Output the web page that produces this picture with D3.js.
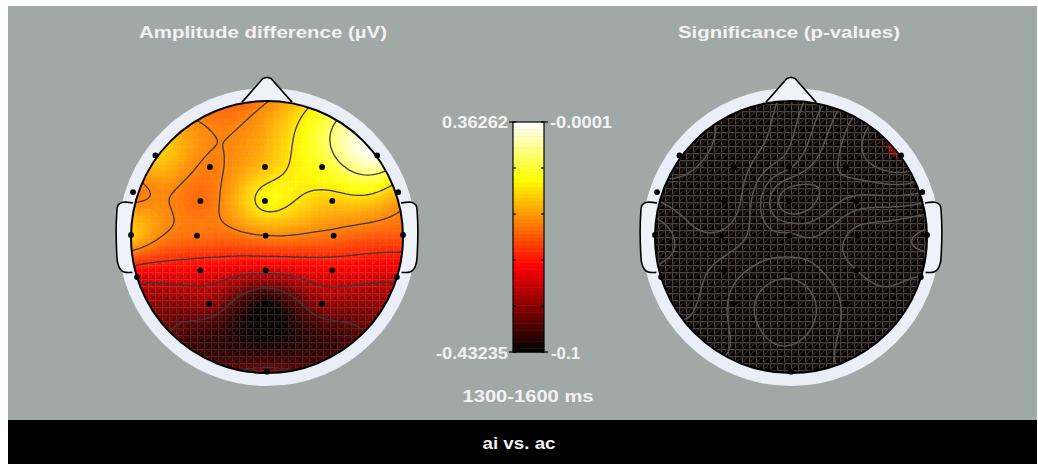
<!DOCTYPE html>
<html lang="en">
<head>
  <meta charset="UTF-8">
  <title>Topoplot ai vs. ac</title>
  <script src="https://cdn.jsdelivr.net/npm/d3@7"></script>
  <style>
    body { margin: 0; background: #fff; }
    text {
      font-family: "Liberation Sans", Arial, sans-serif;
      font-weight: bold;
      font-size: 17px;
      fill: #f2f2f2;
    }
  </style>
</head>
<body>
<script>
// electrode layout, head radius = 1, x to the right, y towards the back
var chans = ["F7", "FT7", "T7", "TP7", "F8", "FT8", "T8", "TP8", "Oz",
             "F3", "Fz", "F4", "FC3", "FCz", "FC4", "C3", "Cz", "C4",
             "CP3", "CPz", "CP4", "P3", "Pz", "P4", "O1", "O2"];
var chanX = [-0.82, -0.985, -1.0, -0.955, 0.81, 0.965, 1.0, 0.955, 0.0,
             -0.42, -0.015, 0.405, -0.49, -0.015, 0.48, -0.515, -0.01, 0.49,
             -0.49, -0.01, 0.48, -0.425, -0.01, 0.405, -0.5, 0.5];
var chanY = [-0.6, -0.33, -0.015, 0.295, -0.6, -0.33, -0.015, 0.295, 0.99,
             -0.515, -0.515, -0.515, -0.265, -0.265, -0.265, -0.01, -0.01, -0.01,
             0.245, 0.245, 0.245, 0.49, 0.49, 0.49, 0.78, 0.78];
// O1 / O2 take part in the interpolation but have no marker in the figure
var chanShown = chans.map(function(c) { return c !== "O1" && c !== "O2"; });

// amplitude difference (µV) per electrode
var ampValues = [0.11, 0.0, 0.10, -0.17, 0.35, 0.08, -0.03, -0.19, -0.30,
                 0.01, 0.09, 0.19, -0.01, 0.16, 0.10, 0.0, 0.02, 0.0,
                 -0.15, -0.18, -0.15, -0.26, -0.42, -0.26, -0.37, -0.37];
// p-values per electrode
var pValues = [0.7, 0.85, 0.6, 0.75, 0.08, 0.45, 0.85, 0.7, 0.5,
               0.9, 0.6, 0.3, 0.95, 0.22, 0.5, 0.8, 0.6, 0.75,
               0.65, 0.5, 0.7, 0.55, 0.35, 0.6, 0.6, 0.65];

var ampRange = [-0.43235, 0.36262];
var pRange = [-0.1, -0.0001];
var ampLabels = ["-0.43235", "0.36262"];
var pLabels = ["-0.1", "-0.0001"];
var titles = ["Amplitude difference (\u00b5V)", "Significance (p-values)"];
var timeLabel = "1300-1600 ms";
var condLabel = "ai vs. ac";

var w = 1038, h = 464;
var R = 136;          // head radius in px
var gridN = 111, gridExt = 1.1;

// matlab style "hot" colormap
function hot(t) {
  t = Math.max(0, Math.min(1, t));
  var r = Math.min(1, t / 0.375),
      g = Math.max(0, Math.min(1, (t - 0.375) / 0.375)),
      b = Math.max(0, (t - 0.75) / 0.25);
  return d3.rgb(r * 255, g * 255, b * 255).toString();
}

// biharmonic spline (like griddata v4)
function green(r) { return r === 0 ? 0 : r * r * (Math.log(r) - 1); }

function solve(A, b) {
  var n = b.length;
  A = A.map(function(row) { return row.slice(); });
  b = b.slice();
  for (var k = 0; k < n; k++) {
    var p = k;
    for (var i = k + 1; i < n; i++) if (Math.abs(A[i][k]) > Math.abs(A[p][k])) p = i;
    var t = A[k]; A[k] = A[p]; A[p] = t;
    var tb = b[k]; b[k] = b[p]; b[p] = tb;
    for (var i = k + 1; i < n; i++) {
      var f = A[i][k] / A[k][k];
      for (var j = k; j < n; j++) A[i][j] -= f * A[k][j];
      b[i] -= f * b[k];
    }
  }
  var x = new Array(n);
  for (var i = n - 1; i >= 0; i--) {
    var s = b[i];
    for (var j = i + 1; j < n; j++) s -= A[i][j] * x[j];
    x[i] = s / A[i][i];
  }
  return x;
}

function interpolate(values) {
  var G = chanX.map(function(x, i) {
    return chanX.map(function(x2, j) { return green(Math.hypot(x - x2, chanY[i] - chanY[j])); });
  });
  var wts = solve(G, values);
  var grid = new Array(gridN * gridN);
  for (var r = 0; r < gridN; r++) {
    for (var c = 0; c < gridN; c++) {
      var gx = -gridExt + 2 * gridExt * c / (gridN - 1),
          gy = -gridExt + 2 * gridExt * r / (gridN - 1);
      var s = 0;
      for (var k = 0; k < wts.length; k++) s += wts[k] * green(Math.hypot(gx - chanX[k], gy - chanY[k]));
      grid[r * gridN + c] = s;
    }
  }
  return grid;
}

var svg = d3.select("body").append("svg")
  .attr("width", w)
  .attr("height", h);

svg.append("rect").attr("width", w).attr("height", h).attr("fill", "#fff");
svg.append("rect").attr("x", 8).attr("y", 6).attr("width", 1029).attr("height", 414).attr("fill", "#a1a9a7");
svg.append("rect").attr("x", 8).attr("y", 420).attr("width", 1029).attr("height", 44).attr("fill", "#000");

var defs = svg.append("defs");
// the surface mesh that shows through the map
var mesh = defs.append("pattern")
  .attr("id", "mesh")
  .attr("patternUnits", "userSpaceOnUse")
  .attr("width", 7).attr("height", 7);
mesh.append("path").attr("d", "M0,0.5H7M0.5,0V7").attr("stroke", "#5a5a5a").attr("stroke-width", 1.3);
mesh.append("path").attr("d", "M0,7L7,0M-1,1L1,-1M6,8L8,6").attr("stroke", "#4a2c2c").attr("stroke-width", 1.2);

var heads = [
  { cx: 267, cy: 237, values: ampValues, range: ampRange, lineColor: "#3a3a3a", lineWidth: 1.3, meshOpacity: 0.42 },
  { cx: 791, cy: 237, values: pValues.map(function(p) { return -p; }), range: pRange, lineColor: "#555", lineWidth: 1.5, meshOpacity: 0.8 }
];

var sx = d3.scaleLinear().domain([0.5, gridN - 0.5]).range([-gridExt * R, gridExt * R]);
var gridPath = d3.geoPath(d3.geoTransform({
  point: function(x, y) { this.stream.point(sx(x), sx(y)); }
}));
var head = d3.scaleLinear().domain([-1, 1]).range([-R, R]);

var earPts = [[-0.985, -0.25], [-1.06, -0.255], [-1.095, -0.235], [-1.105, -0.17], [-1.105, 0.12],
              [-1.098, 0.19], [-1.08, 0.235], [-1.05, 0.258], [-0.99, 0.26]];
var nosePts = [[-0.185, -0.99], [-0.03, -1.165], [0, -1.175], [0.03, -1.165], [0.185, -0.99]];
var line = d3.line().x(function(d) { return head(d[0]); }).y(function(d) { return head(d[1]); });

heads.forEach(function(hd, hi) {
  var g = svg.append("g").attr("transform", "translate(" + hd.cx + "," + hd.cy + ")");
  var grid = interpolate(hd.values);
  var color = d3.scaleSequential(hot).domain(hd.range);

  defs.append("clipPath").attr("id", "clip" + hi)
    .append("circle").attr("r", R);

  // outer light ring
  g.append("circle").attr("r", R + 13).attr("fill", "#e9eef7");

  // ears and nose
  [1, -1].forEach(function(side) {
    g.append("path")
      .attr("d", line.curve(d3.curveCatmullRom)(earPts.map(function(p) { return [p[0] * side, p[1]]; })))
      .attr("fill", "#eef2f9").attr("stroke", "#000").attr("stroke-width", 1.6);
  });
  g.append("path")
    .attr("d", d3.line().x(function(d) { return head(d[0]); }).y(function(d) { return head(d[1]); })
      .curve(d3.curveLinear)(nosePts))
    .attr("fill", "#eef2f9").attr("stroke", "#000").attr("stroke-width", 1.6)
    .attr("stroke-linejoin", "round");

  var map = g.append("g").attr("clip-path", "url(#clip" + hi + ")");

  // filled colour surface
  var nBands = 96;
  var step = (hd.range[1] - hd.range[0]) / nBands;
  var clamped = grid.map(function(v) { return Math.max(hd.range[0], Math.min(hd.range[1], v)); });
  map.append("circle").attr("r", R).attr("fill", color(hd.range[0] + step / 2));
  var thresholds = d3.range(1, nBands).map(function(k) { return hd.range[0] + k * step; });
  map.selectAll("path.band")
    .data(d3.contours().size([gridN, gridN]).thresholds(thresholds)(clamped))
    .enter().append("path")
    .attr("class", "band")
    .attr("d", gridPath)
    .attr("fill", function(d) { return color(d.value + step / 2); })
    .attr("stroke", function(d) { return color(d.value + step / 2); })
    .attr("stroke-width", 0.5);

  map.append("rect")
    .attr("x", -R).attr("y", -R).attr("width", 2 * R).attr("height", 2 * R)
    .attr("fill", "url(#mesh)")
    .attr("opacity", hd.meshOpacity)
    .style("mix-blend-mode", "lighten");

  // contour lines, 6 levels over the data range
  var ext = hi === 0 ? hd.range : d3.extent(hd.values);
  var levels = d3.range(1, 7).map(function(k) { return ext[0] + k * (ext[1] - ext[0]) / 7; });
  map.selectAll("path.iso")
    .data(d3.contours().size([gridN, gridN]).thresholds(levels)(grid))
    .enter().append("path")
    .attr("class", "iso")
    .attr("d", gridPath)
    .attr("fill", "none")
    .attr("stroke", hd.lineColor)
    .attr("stroke-width", hd.lineWidth);

  g.append("circle").attr("r", R).attr("fill", "none").attr("stroke", "#000").attr("stroke-width", 2);

  g.selectAll("circle.chan")
    .data(chans.filter(function(d, i) { return chanShown[i]; }))
    .enter().append("circle")
    .attr("class", "chan")
    .attr("cx", function(d) { return head(chanX[chans.indexOf(d)]); })
    .attr("cy", function(d) { return head(chanY[chans.indexOf(d)]); })
    .attr("r", 2.9)
    .attr("fill", "#000");
});

// titles
svg.append("text").attr("x", 263).attr("y", 38).attr("text-anchor", "middle")
  .attr("textLength", 248).attr("lengthAdjust", "spacingAndGlyphs").text(titles[0]);
svg.append("text").attr("x", 789).attr("y", 38).attr("text-anchor", "middle")
  .attr("textLength", 222).attr("lengthAdjust", "spacingAndGlyphs").text(titles[1]);

// colour bar
var cbX = 513, cbW = 31;
var cbY = d3.scaleLinear().domain(ampRange).range([352, 122]);
var cbColor = d3.scaleSequential(hot).domain(ampRange);
var nCb = 64;
var cbStep = (ampRange[1] - ampRange[0]) / nCb;
svg.append("g").selectAll("rect")
  .data(d3.range(nCb).map(function(k) { return ampRange[0] + k * cbStep; }))
  .enter().append("rect")
  .attr("x", cbX)
  .attr("width", cbW)
  .attr("y", function(d) { return cbY(d + cbStep); })
  .attr("height", function(d) { return cbY(d) - cbY(d + cbStep) + 0.4; })
  .attr("fill", function(d) { return cbColor(d + cbStep / 2); });
svg.append("rect").attr("x", cbX).attr("y", 122).attr("width", cbW).attr("height", 230)
  .attr("fill", "none").attr("stroke", "#000").attr("stroke-width", 1.2);

var cbTicks = d3.range(6).map(function(k) { return ampRange[0] + k * (ampRange[1] - ampRange[0]) / 5; });
var tickG = svg.append("g").attr("stroke", "#000").attr("stroke-width", 1.2);
cbTicks.forEach(function(v, k) {
  var y = cbY(v);
  var out = (k === 0 || k === 5) ? 4 : 0;
  tickG.append("line").attr("x1", cbX - out).attr("x2", cbX + 3).attr("y1", y).attr("y2", y);
  tickG.append("line").attr("x1", cbX + cbW - 3).attr("x2", cbX + cbW + out).attr("y1", y).attr("y2", y);
});

svg.append("text").attr("x", 508).attr("y", 128).attr("text-anchor", "end")
  .attr("textLength", 66).attr("lengthAdjust", "spacingAndGlyphs").text(ampLabels[1]);
svg.append("text").attr("x", 508).attr("y", 359).attr("text-anchor", "end")
  .attr("textLength", 72).attr("lengthAdjust", "spacingAndGlyphs").text(ampLabels[0]);
svg.append("text").attr("x", 550).attr("y", 128)
  .attr("textLength", 62).attr("lengthAdjust", "spacingAndGlyphs").text(pLabels[1]);
svg.append("text").attr("x", 551).attr("y", 359)
  .attr("textLength", 29).attr("lengthAdjust", "spacingAndGlyphs").text(pLabels[0]);

svg.append("text").attr("x", 528).attr("y", 402).attr("text-anchor", "middle")
  .attr("textLength", 131).attr("lengthAdjust", "spacingAndGlyphs").text(timeLabel);
svg.append("text").attr("x", 519).attr("y", 449).attr("text-anchor", "middle")
  .attr("textLength", 73).attr("lengthAdjust", "spacingAndGlyphs").text(condLabel);
</script>
</body>
</html>
